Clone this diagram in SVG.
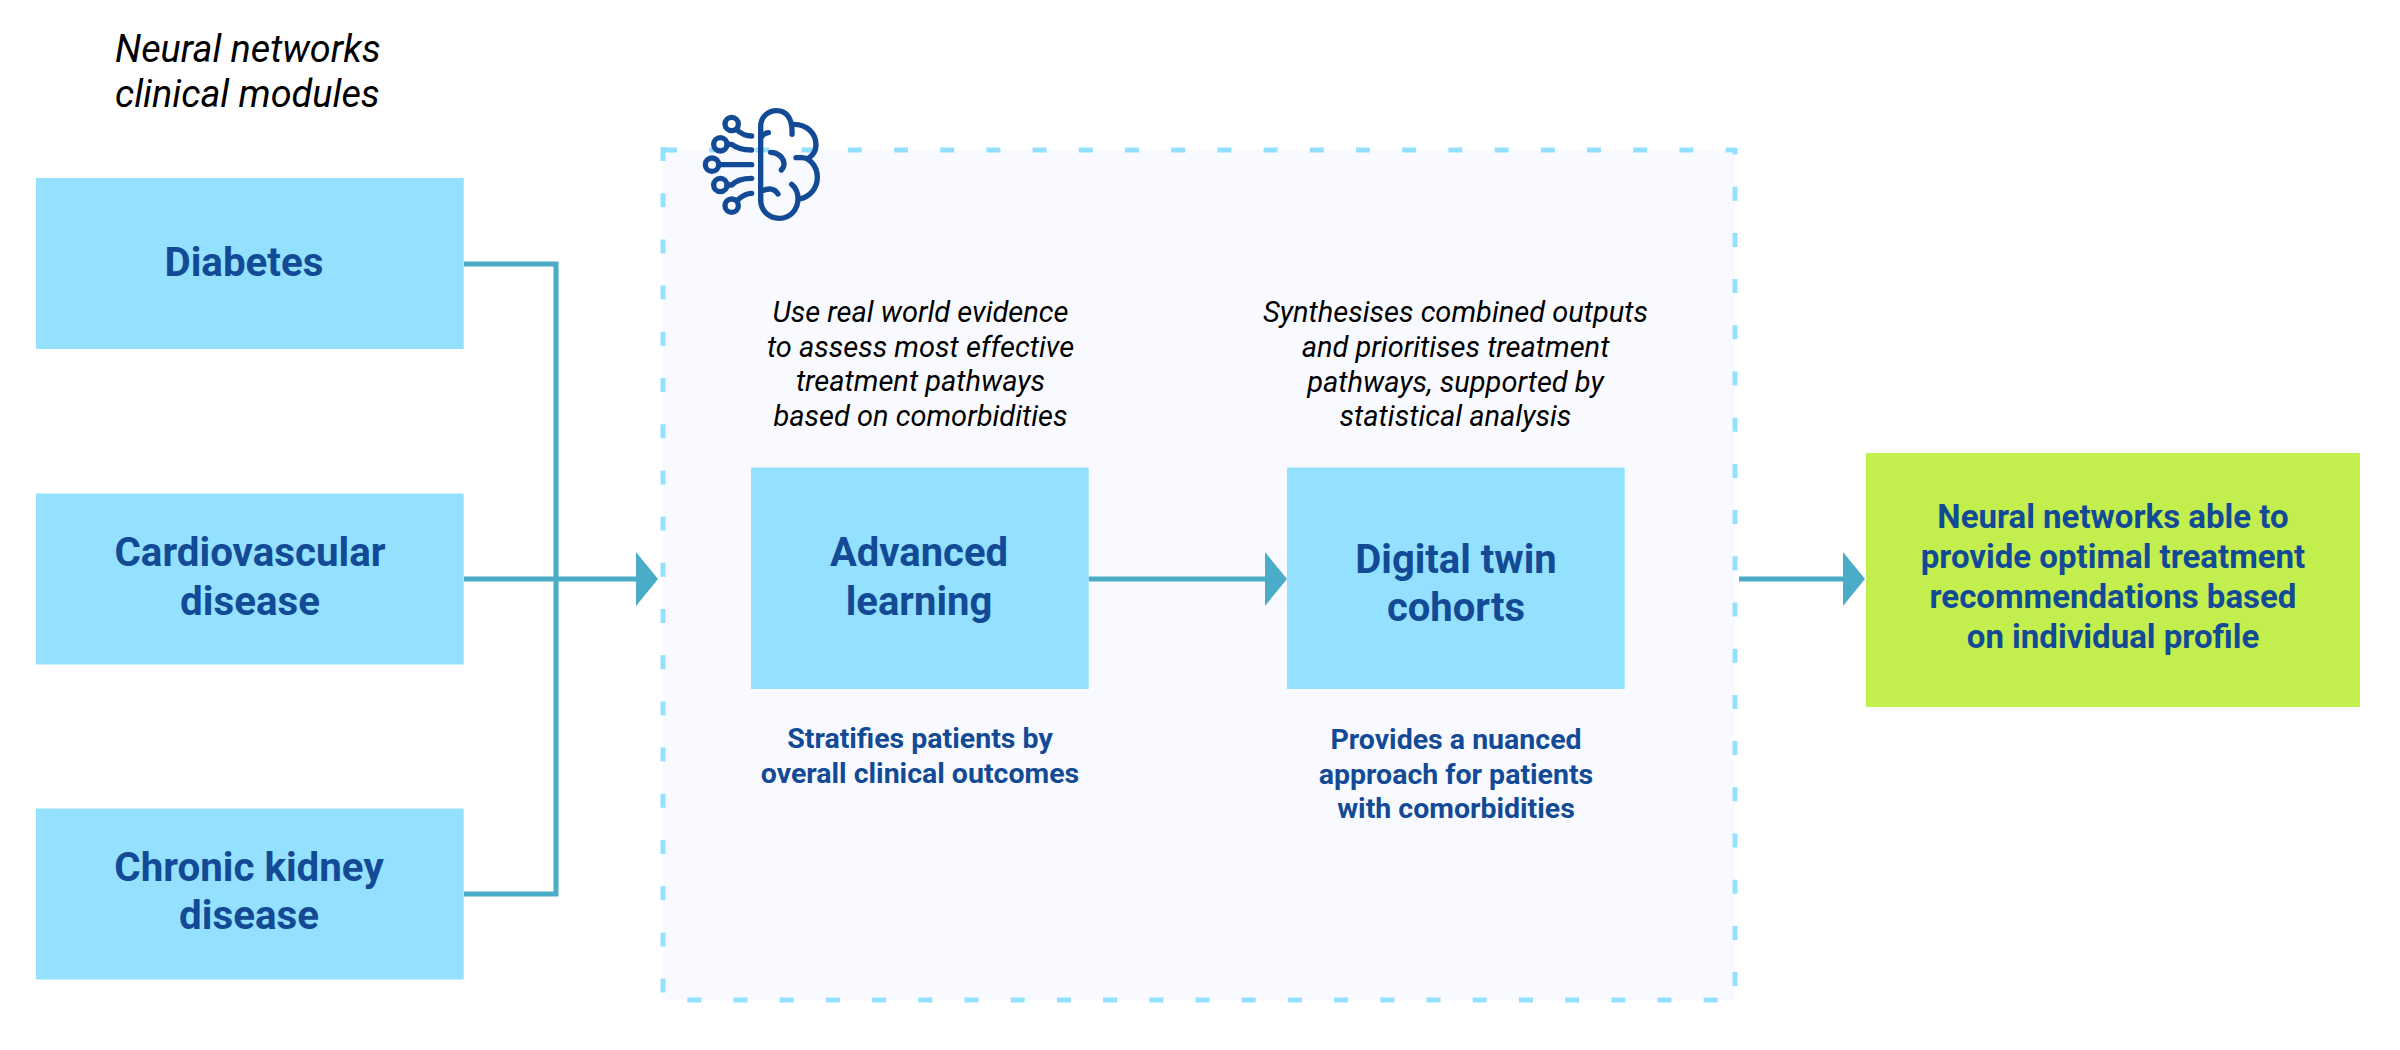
<svg xmlns="http://www.w3.org/2000/svg" width="2400" height="1050" viewBox="0 0 2400 1050">
<style>
text{font-family:Roboto,"Liberation Sans",sans-serif}
.box{fill:#94e1ff}
.res{fill:#c2ef4e}
.t{font-weight:700;fill:#134a96;text-anchor:middle}
.l{font-size:40.3px}
.m{font-size:40px}
.r{font-size:33px}
.s{font-size:28.5px}
.i{font-style:italic;fill:#000;font-size:29px;text-anchor:middle}
.h{font-style:italic;fill:#000;font-size:37.8px}
.c{fill:none;stroke:#4aacc6;stroke-width:5}
.ic{fill:none;stroke:#134a96;stroke-width:16;stroke-linecap:round;stroke-linejoin:round}
</style>
<defs>
<marker id="arrow" markerUnits="userSpaceOnUse" markerWidth="22" markerHeight="54" refX="0" refY="27" orient="auto" viewBox="0 0 22 54"><path d="M0 0L22 27L0 54Z" fill="#4aacc6"/></marker>
</defs>
<rect width="2400" height="1050" fill="#fff"/>
<g id="heading"><text class="h" x="115" y="61.5">Neural networks</text><text class="h" x="115" y="106.5">clinical modules</text></g>
<g id="zone">
<rect x="663" y="150" width="1072" height="850" fill="#f8faff"/>
<path d="M663 150H1735M663 147V1000M1735 148V154.5M1735 186.7V1000M687.3 1000H1735" fill="none" stroke="#94e1ff" stroke-width="5" stroke-dasharray="14 32.2"/>
</g>
<g id="brain-icon" transform="translate(640 90) scale(.33333)" class="ic">
<path d="M362 330V110C362 80 385 62 410 62C440 62 458 85 456 133"/>
<path d="M462 103C500 103 528 130 528 165C528 180 520 195 505 205"/>
<path d="M468 203H485C510 203 532 230 532 262C532 295 510 320 478 327"/>
<path d="M362 330C362 360 385 385 418 385C450 385 474 360 474 325C474 305 465 292 455 283"/>
<path d="M366 303C385 293 405 295 414 312"/>
<path d="M362 145Q370 130 385 128"/>
<path d="M392 187C415 187 432 205 432 222C432 230 428 236 424 240"/>
<circle cx="275" cy="102" r="20"/><circle cx="241" cy="163" r="20"/><circle cx="216" cy="224" r="20"/><circle cx="241" cy="285" r="20"/><circle cx="275" cy="347" r="20"/>
<path d="M289 118Q310 138 335 138M262 163H275Q295 180 335 180M237 224H335M262 285H275Q295 265 335 265M293 330Q315 310 335 310"/>
</g>
<g id="connectors">
<path class="c" d="M464 264H556V894H464"/>
<path class="c" d="M464 579H636" marker-end="url(#arrow)"/>
<path class="c" d="M1088.5 579H1265" marker-end="url(#arrow)"/>
<path class="c" d="M1739 579H1843" marker-end="url(#arrow)"/>
</g>
<g id="diabetes"><rect class="box" x="36" y="178" width="427.7" height="171"/><text class="t l" x="244" y="276">Diabetes</text></g>
<g id="cardiovascular"><rect class="box" x="36" y="493.5" width="427.7" height="171"/><text class="t l" x="250" y="566">Cardiovascular</text><text class="t l" x="250" y="615">disease</text></g>
<g id="kidney"><rect class="box" x="36" y="808.5" width="427.7" height="171"/><text class="t l" x="249" y="881">Chronic kidney</text><text class="t l" x="249" y="929">disease</text></g>
<g id="advanced"><rect class="box" x="751" y="467.5" width="337.7" height="221.5"/><text class="t m" x="919" y="566">Advanced</text><text class="t m" x="919" y="614.7">learning</text>
<text class="i" x="920.5" y="321.7">Use real world evidence</text><text class="i" x="920.5" y="356.7">to assess most effective</text><text class="i" x="920.5" y="391">treatment pathways</text><text class="i" x="920.5" y="426">based on comorbidities</text>
<text class="t s" x="920" y="748.3">Stratifies patients by</text><text class="t s" x="920" y="783">overall clinical outcomes</text></g>
<g id="digital-twin"><rect class="box" x="1287" y="467.5" width="337.7" height="221.5"/><text class="t m" x="1456" y="573">Digital twin</text><text class="t m" x="1456" y="621">cohorts</text>
<text class="i" x="1455.5" y="322">Synthesises combined outputs</text><text class="i" x="1455.5" y="357">and prioritises treatment</text><text class="i" x="1455.5" y="392">pathways, supported by</text><text class="i" x="1455.5" y="426.4">statistical analysis</text>
<text class="t s" x="1456" y="748.6">Provides a nuanced</text><text class="t s" x="1456" y="783.6">approach for patients</text><text class="t s" x="1456" y="818">with comorbidities</text></g>
<g id="result"><rect class="res" x="1866" y="453" width="494" height="254"/><text class="t r" x="2113" y="528">Neural networks able to</text><text class="t r" x="2113" y="568">provide optimal treatment</text><text class="t r" x="2113" y="608">recommendations based</text><text class="t r" x="2113" y="648">on individual profile</text></g>
</svg>
